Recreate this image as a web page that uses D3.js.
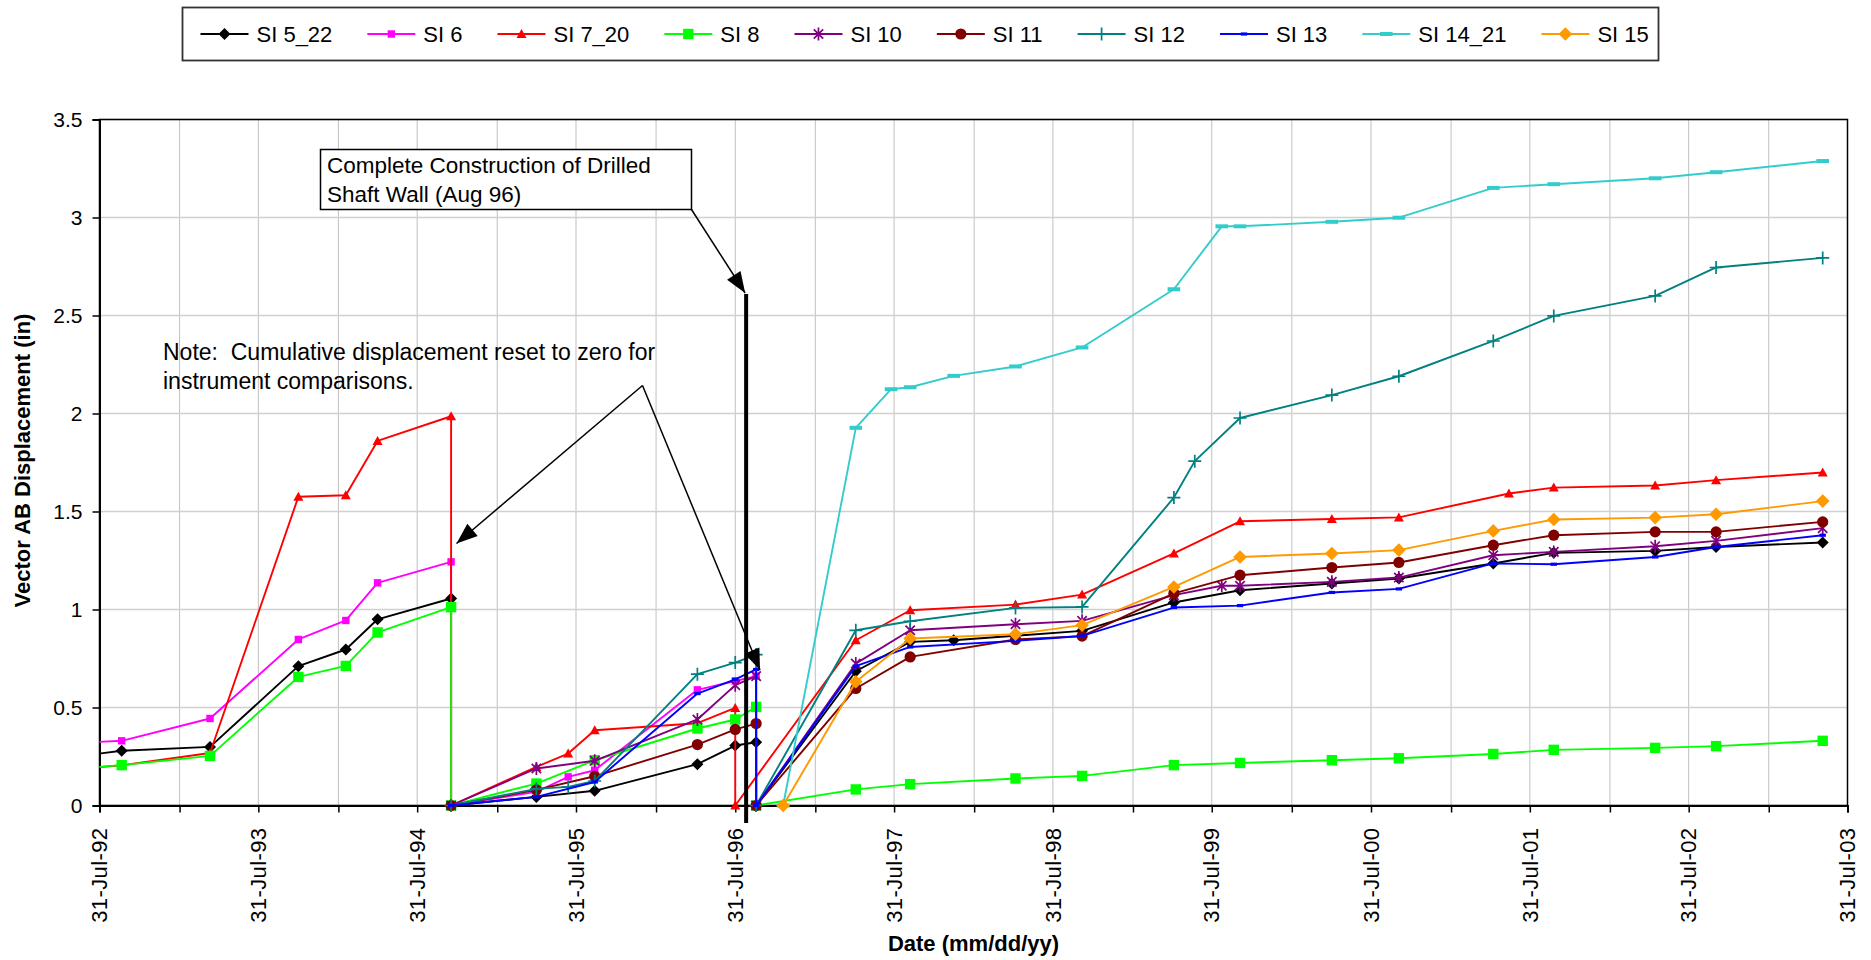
<!DOCTYPE html>
<html>
<head>
<meta charset="utf-8">
<script src="https://cdn.jsdelivr.net/npm/d3@7"></script>
<style>
  html, body { margin: 0; padding: 0; background: #fff; }
  svg { display: block; font-family: "Liberation Sans", Arial, sans-serif; }
</style>
</head>
<body>
<svg id="chart" width="1871" height="960"></svg>
<script>
// ---- Data: [date, vector AB displacement (in)] per inclinometer ----
const si5_22 = [["1992-05-01",0.24],["1992-09-20",0.279],["1993-04-11",0.299],["1993-10-31",0.711],["1994-02-17",0.796],["1994-05-01",0.950],["1994-10-17",1.056],["1994-10-17",0],["1995-05-01",0.044],["1995-09-12",0.075],["1996-05-05",0.211],["1996-07-31",0.306],["1996-09-17",0.323],["1996-09-17",0],["1997-05-04",0.685],["1997-09-06",0.835],["1997-12-15",0.843],["1998-10-06",0.891],["1999-05-05",1.036],["1999-10-04",1.098],["2000-05-02",1.133],["2000-10-03",1.158],["2001-05-08",1.235],["2001-09-24",1.289],["2002-05-15",1.299],["2002-10-02",1.319],["2003-06-04",1.342]];
const si6 = [["1992-05-01",0.316],["1992-09-20",0.330],["1993-04-11",0.444],["1993-10-31",0.847],["1994-02-17",0.944],["1994-05-01",1.136],["1994-10-17",1.243],["1994-10-17",0],["1995-05-01",0.070],["1995-07-13",0.146],["1995-09-12",0.180],["1996-05-05",0.590],["1996-07-31",0.635],["1996-09-17",0.660]];
const si7_20 = [["1992-05-01",0.18],["1992-09-20",0.205],["1993-04-11",0.268],["1993-10-31",1.575],["1994-02-17",1.583],["1994-05-01",1.860],["1994-10-17",1.986],["1994-10-17",0],["1995-05-01",0.197],["1995-07-13",0.265],["1995-09-12",0.384],["1996-05-05",0.420],["1996-07-31",0.498],["1996-07-31",0],["1997-05-04",0.843],["1997-09-06",0.996],["1998-05-06",1.025],["1998-10-06",1.076],["1999-05-05",1.286],["1999-10-04",1.450],["2000-05-02",1.462],["2000-10-03",1.470],["2001-06-13",1.592],["2001-09-24",1.622],["2002-05-15",1.633],["2002-10-02",1.660],["2003-06-04",1.699]];
const si8 = [["1992-05-01",0.182],["1992-09-20",0.206],["1993-04-11",0.253],["1993-10-31",0.656],["1994-02-17",0.712],["1994-05-01",0.883],["1994-10-17",1.012],["1994-10-17",0],["1995-05-01",0.112],["1995-09-12",0.231],["1996-05-05",0.393],["1996-07-31",0.439],["1996-09-17",0.503],["1996-09-17",0],["1997-05-04",0.082],["1997-09-06",0.109],["1998-05-06",0.138],["1998-10-06",0.151],["1999-05-05",0.206],["1999-10-04",0.217],["2000-05-02",0.231],["2000-10-03",0.241],["2001-05-08",0.263],["2001-09-24",0.284],["2002-05-15",0.294],["2002-10-02",0.303],["2003-06-04",0.330]];
const si10 = [["1994-10-17",0],["1995-05-01",0.189],["1995-09-12",0.228],["1996-05-05",0.439],["1996-07-31",0.614],["1996-09-17",0.660],["1996-09-17",0],["1997-05-04",0.724],["1997-09-06",0.894],["1998-05-06",0.925],["1998-10-06",0.942],["1999-05-05",1.073],["1999-08-23",1.121],["1999-10-04",1.121],["2000-05-02",1.141],["2000-10-03",1.163],["2001-05-08",1.277],["2001-09-24",1.294],["2002-05-15",1.323],["2002-10-02",1.350],["2003-06-04",1.415]];
const si11 = [["1994-10-17",0],["1995-05-01",0.080],["1995-09-12",0.149],["1996-05-05",0.311],["1996-07-31",0.388],["1996-09-17",0.418],["1996-09-17",0],["1997-05-04",0.597],["1997-09-06",0.758],["1998-05-06",0.847],["1998-10-06",0.864],["1999-05-05",1.082],["1999-10-04",1.175],["2000-05-02",1.214],["2000-10-03",1.240],["2001-05-08",1.328],["2001-09-24",1.379],["2002-05-15",1.396],["2002-10-02",1.396],["2003-06-04",1.447]];
const si12 = [["1994-10-17",0],["1995-05-01",0.085],["1995-07-13",0.095],["1995-09-12",0.125],["1996-05-05",0.670],["1996-07-31",0.729],["1996-09-17",0.770],["1996-09-17",0],["1997-05-04",0.894],["1997-09-06",0.940],["1998-05-06",1.008],["1998-10-06",1.013],["1999-05-05",1.571],["1999-06-22",1.757],["1999-10-04",1.977],["2000-05-02",2.094],["2000-10-03",2.190],["2001-05-08",2.370],["2001-09-24",2.498],["2002-05-15",2.600],["2002-10-02",2.745],["2003-06-04",2.794]];
const si13 = [["1994-10-17",0],["1995-05-01",0.044],["1995-09-12",0.120],["1996-05-05",0.571],["1996-07-31",0.644],["1996-09-17",0.694],["1996-09-17",0],["1997-05-04",0.711],["1997-09-06",0.809],["1998-05-06",0.840],["1998-10-06",0.865],["1999-05-05",1.010],["1999-10-04",1.020],["2000-05-02",1.087],["2000-10-03",1.105],["2001-05-08",1.235],["2001-09-24",1.231],["2002-05-15",1.268],["2002-10-02",1.319],["2003-06-04",1.379]];
const si14_21 = [["1996-11-18",0],["1997-05-04",1.927],["1997-07-24",2.124],["1997-09-06",2.134],["1997-12-15",2.192],["1998-05-06",2.240],["1998-10-06",2.337],["1999-05-05",2.634],["1999-08-23",2.955],["1999-10-04",2.955],["2000-05-02",2.978],["2000-10-03",2.999],["2001-05-08",3.151],["2001-09-24",3.170],["2002-05-15",3.200],["2002-10-02",3.231],["2003-06-04",3.288]];
const si15 = [["1996-11-18",0],["1997-05-04",0.631],["1997-09-06",0.852],["1998-05-06",0.874],["1998-10-06",0.920],["1999-05-05",1.115],["1999-10-04",1.268],["2000-05-02",1.286],["2000-10-03",1.303],["2001-05-08",1.401],["2001-09-24",1.459],["2002-05-15",1.469],["2002-10-02",1.486],["2003-06-04",1.553]];

const seriesNames = ["SI 5_22","SI 6","SI 7_20","SI 8","SI 10","SI 11","SI 12","SI 13","SI 14_21","SI 15"];
const seriesValues = [si5_22, si6, si7_20, si8, si10, si11, si12, si13, si14_21, si15];
const yTickValues = [0, 0.5, 1, 1.5, 2, 2.5, 3, 3.5];
const xLabelYears = [1992,1993,1994,1995,1996,1997,1998,1999,2000,2001,2002,2003];
const wallCompleteDate = "1996-08-25";

// ---- Styles ----
const seriesColors  = ["#000000","#FF00FF","#FF0000","#00FF00","#800080","#800000","#008080","#0000FF","#33CCCC","#FF9900"];
const seriesMarkers = ["diamond","square","triangle","square","star","circle","plus","dash","dash","diamond"];
const markerSizes   = [6, 3.7, 5, 5.2, 6.5, 5.6, 6.5, [3.2,1.6], [6.3,2], 6.8];

const svg = d3.select("#chart");
const parse = d3.utcParse("%Y-%m-%d");
const plot = { left: 99.5, right: 1847.5, top: 119.5, bottom: 805.5 };

const x = d3.scaleUtc()
  .domain([parse("1992-07-31"), parse("2003-07-31")])
  .range([plot.left, plot.right]);
const y = d3.scaleLinear().domain([0, 3.5]).range([plot.bottom, plot.top]);

// Half-year grid / tick dates (31 Jan and 31 Jul)
const gridDates = [];
xLabelYears.forEach(yr => {
  [`${yr}-01-31`, `${yr}-07-31`].forEach(s => {
    const d = parse(s);
    if (d >= x.domain()[0] && d <= x.domain()[1]) gridDates.push(d);
  });
});
const labelDates = xLabelYears.map(yr => parse(`${yr}-07-31`));

// Gridlines
const grid = svg.append("g");
grid.selectAll("line.v").data(gridDates).join("line")
  .attr("x1", d => x(d)).attr("x2", d => x(d))
  .attr("y1", plot.top).attr("y2", plot.bottom)
  .attr("stroke", "#c0c0c0").attr("stroke-width", 1);
grid.selectAll("line.h").data(yTickValues).join("line")
  .attr("x1", plot.left).attr("x2", plot.right)
  .attr("y1", d => y(d)).attr("y2", d => y(d))
  .attr("stroke", "#d0d0d0").attr("stroke-width", 1.5);

// Plot frame
svg.append("rect")
  .attr("x", plot.left).attr("y", plot.top)
  .attr("width", plot.right - plot.left).attr("height", plot.bottom - plot.top)
  .attr("fill", "none").attr("stroke", "#000").attr("stroke-width", 1.5);

// Y axis
const yAxis = svg.append("g")
  .attr("transform", `translate(${plot.left},0)`)
  .call(d3.axisLeft(y).tickValues(yTickValues).tickSize(7).tickPadding(10).tickFormat(d3.format("")));
yAxis.select(".domain").attr("stroke-width", 2);
yAxis.selectAll(".tick line").attr("stroke-width", 1.5);
yAxis.selectAll("text").attr("font-size", 21).attr("font-family", "Liberation Sans, Arial, sans-serif").attr("fill", "#000");

// X axis: ticks every half year, labels every July
const xAxis = svg.append("g")
  .attr("transform", `translate(0,${plot.bottom})`)
  .call(d3.axisBottom(x).tickValues(gridDates).tickSize(7).tickFormat(""));
xAxis.select(".domain").attr("stroke-width", 2);
xAxis.selectAll(".tick line").attr("stroke-width", 1.5);

const fmt = d3.utcFormat("%d-%b-%y");
svg.append("g").selectAll("text").data(labelDates).join("text")
  .attr("transform", d => `translate(${x(d)},${plot.bottom + 22}) rotate(-90)`)
  .attr("text-anchor", "end").attr("dy", "0.35em")
  .attr("font-size", 22).attr("letter-spacing", 0.4)
  .text(d => fmt(d));

// Axis titles
svg.append("text")
  .attr("transform", `translate(30,${(plot.top + plot.bottom) / 2 - 2}) rotate(-90)`)
  .attr("text-anchor", "middle").attr("font-size", 22).attr("font-weight", "bold")
  .text("Vector AB Displacement (in)");
svg.append("text")
  .attr("x", (plot.left + plot.right) / 2).attr("y", 951)
  .attr("text-anchor", "middle").attr("font-size", 22).attr("font-weight", "bold")
  .text("Date (mm/dd/yy)");

// Marker shapes
function markerPath(type, r) {
  switch (type) {
    case "diamond": return `M0,${-r}L${r},0L0,${r}L${-r},0Z`;
    case "square": return `M${-r},${-r}H${r}V${r}H${-r}Z`;
    case "triangle": return `M0,${-r}L${r},${r * 0.8}L${-r},${r * 0.8}Z`;
    case "star": { const a = r * 0.72; return `M0,${-r}V${r}M${-a},${-a}L${a},${a}M${-a},${a}L${a},${-a}`; }
    case "circle": return d3.symbol(d3.symbolCircle, Math.PI * r * r)();
    case "plus": return `M${-r},0H${r}M0,${-r}V${r}`;
    case "dash": return `M${-r[0]},${-r[1]}H${r[0]}V${r[1]}H${-r[0]}Z`;
  }
}
const strokeOnly = t => t === "star" || t === "plus";
function styleMarker(sel, i) {
  const t = seriesMarkers[i];
  sel.attr("d", markerPath(t, markerSizes[i]))
    .attr("fill", strokeOnly(t) ? "none" : seriesColors[i])
    .attr("stroke", strokeOnly(t) ? seriesColors[i] : "none")
    .attr("stroke-width", strokeOnly(t) ? 1.7 : 0);
}

// Series
svg.append("defs").append("clipPath").attr("id", "plotClip")
  .append("rect").attr("x", plot.left).attr("y", 0)
  .attr("width", plot.right - plot.left).attr("height", 960);

const line = d3.line().x(d => x(d.date)).y(d => y(d.value));
const seriesLayer = svg.append("g");
seriesValues.forEach((vals, i) => {
  const pts = vals.map(([d, v]) => ({ date: parse(d), value: v }));
  const g = seriesLayer.append("g");
  g.append("path").datum(pts)
    .attr("clip-path", "url(#plotClip)")
    .attr("d", line).attr("fill", "none")
    .attr("stroke", seriesColors[i]).attr("stroke-width", 1.9)
    .attr("stroke-linejoin", "round");
  g.selectAll("path.m").data(pts.filter(p => p.date >= x.domain()[0])).join("path")
    .attr("class", "m")
    .attr("transform", p => `translate(${x(p.date)},${y(p.value)})`)
    .call(sel => styleMarker(sel, i));
});

// Annotations
const defs = svg.select("defs");
defs.append("marker").attr("id", "arrowHead")
  .attr("viewBox", "-22 -9 24 18").attr("refX", 0).attr("refY", 0)
  .attr("markerUnits", "userSpaceOnUse").attr("markerWidth", 24).attr("markerHeight", 18)
  .attr("orient", "auto")
  .append("path").attr("d", "M0,0L-21,-8L-21,8Z").attr("fill", "#000");

const ann = svg.append("g");
// Construction milestone
const wallX = x(parse(wallCompleteDate));
ann.append("line")
  .attr("x1", wallX).attr("x2", wallX).attr("y1", 294).attr("y2", 823)
  .attr("stroke", "#000").attr("stroke-width", 4);
ann.append("rect").attr("x", 320.5).attr("y", 149.5).attr("width", 371).attr("height", 60)
  .attr("fill", "#fff").attr("stroke", "#000").attr("stroke-width", 1.5);
const boxText = ann.append("text").attr("font-size", 22.5);
boxText.append("tspan").attr("x", 327).attr("y", 172.5).text("Complete Construction of Drilled");
boxText.append("tspan").attr("x", 327).attr("y", 202).text("Shaft Wall (Aug 96)");
ann.append("line")
  .attr("x1", 691.5).attr("y1", 209.5).attr("x2", wallX - 1).attr("y2", 293)
  .attr("stroke", "#000").attr("stroke-width", 1.5).attr("marker-end", "url(#arrowHead)");

// Reset note
const noteText = ann.append("text").attr("font-size", 23).attr("xml:space", "preserve");
noteText.append("tspan").attr("x", 163).attr("y", 360).text("Note:  Cumulative displacement reset to zero for");
noteText.append("tspan").attr("x", 163).attr("y", 389).text("instrument comparisons.");
const apex = [642.5, 385.5];
ann.append("line").attr("x1", apex[0]).attr("y1", apex[1]).attr("x2", 456.5).attr("y2", 543.5)
  .attr("stroke", "#000").attr("stroke-width", 1.5).attr("marker-end", "url(#arrowHead)");
ann.append("line").attr("x1", apex[0]).attr("y1", apex[1]).attr("x2", 760).attr("y2", 670)
  .attr("stroke", "#000").attr("stroke-width", 1.5).attr("marker-end", "url(#arrowHead)");

// Legend
const legend = svg.append("g");
legend.append("rect").attr("x", 182.5).attr("y", 7.5).attr("width", 1476).attr("height", 53)
  .attr("fill", "#fff").attr("stroke", "#333").attr("stroke-width", 1.8);
let lx = 200.5;
seriesNames.forEach((name, i) => {
  const g = legend.append("g").attr("transform", `translate(${lx},34)`);
  g.append("line").attr("x1", 0).attr("x2", 48).attr("y1", 0).attr("y2", 0)
    .attr("stroke", seriesColors[i]).attr("stroke-width", 1.9);
  g.append("path").attr("transform", "translate(24,0)").call(sel => styleMarker(sel, i));
  const t = g.append("text").attr("x", 56).attr("y", 0).attr("dy", "0.35em")
    .attr("font-size", 22).text(name);
  lx += 56 + t.node().getComputedTextLength() + 35;
});
</script>
</body>
</html>
